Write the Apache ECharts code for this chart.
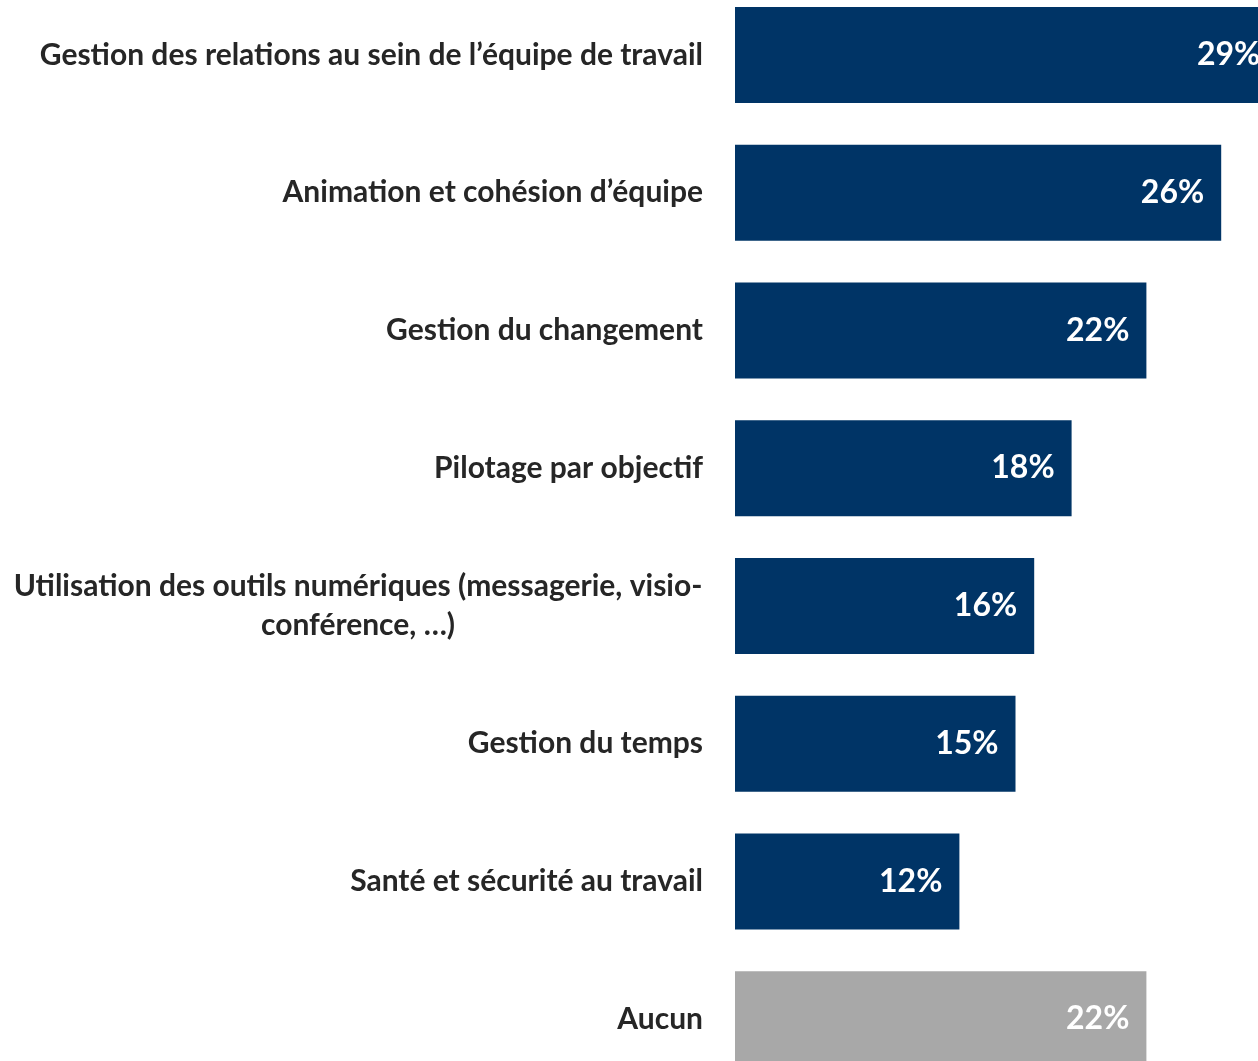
<!DOCTYPE html>
<html>
<head>
<meta charset="utf-8">
<style>
  html, body { margin: 0; padding: 0; background: #ffffff; }
  #chart { width: 1258px; height: 1061px; }
</style>
<script src="https://cdn.jsdelivr.net/npm/echarts@6/dist/echarts.min.js"></script>
</head>
<body>
<div id="chart"></div>
<script>
// Themes, top to bottom
const categories = [
  "Gestion des relations au sein de l’équipe de travail",
  "Animation et cohésion d’équipe",
  "Gestion du changement",
  "Pilotage par objectif",
  "Utilisation des outils numériques (messagerie, visio-\nconférence, …)",
  "Gestion du temps",
  "Santé et sécurité au travail",
  "Aucun"
];
// Share of respondents, in percent
const values = [29, 26, 22, 18, 16, 15, 12, 22];
const navy = "#003466";
const grey = "#a8a8a8";
const barColors = [navy, navy, navy, navy, navy, navy, navy, grey];

const FONT = "Lato, 'Open Sans', sans-serif";

const chart = echarts.init(document.getElementById("chart"), null, { renderer: "canvas" });

chart.setOption({
  animation: false,
  backgroundColor: "#ffffff",
  grid: {
    left: 735, top: -14, width: 561, height: 1102,
    containLabel: false,
    outerBoundsMode: "none"
  },
  xAxis: {
    type: "value",
    min: 0,
    max: 30,
    show: false
  },
  yAxis: {
    type: "category",
    inverse: true,
    data: categories,
    axisLine: { show: false },
    axisTick: { show: false },
    axisLabel: {
      margin: 32,
      color: "#262626",
      fontFamily: FONT,
      fontWeight: "bold",
      fontSize: 30,
      lineHeight: 39,
      formatter: function (v) {
        if (v.indexOf("\n") >= 0) {
          return v.split("\n").map(function (l) { return "{c|" + l + "}"; }).join("\n");
        }
        return v;
      },
      rich: {
        c: {
          width: 690,
          align: "center",
          color: "#262626",
          fontFamily: FONT,
          fontWeight: "bold",
          fontSize: 30,
          lineHeight: 39
        }
      }
    }
  },
  series: [{
    type: "bar",
    barWidth: 96,
    clip: false,
    data: values.map(function (v, i) {
      return { value: v, itemStyle: { color: barColors[i] } };
    }),
    label: {
      show: true,
      position: "insideRight",
      distance: 17,
      color: "#ffffff",
      fontFamily: FONT,
      fontWeight: "bold",
      fontSize: 32,
      formatter: "{c}%"
    }
  }]
});
</script>
</body>
</html>
